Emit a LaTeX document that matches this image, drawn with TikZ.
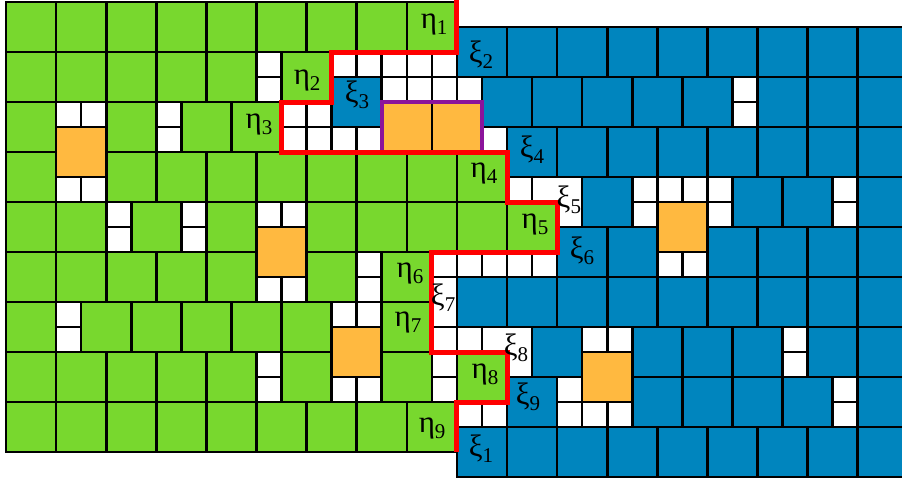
\documentclass[tikz,border=0pt]{standalone}
\usepackage{fontspec}
\setmainfont{Liberation Serif}
\definecolor{gr}{RGB}{120,216,46}
\definecolor{bl}{RGB}{0,133,190}
\definecolor{og}{RGB}{255,185,64}
\definecolor{pu}{RGB}{140,20,155}
\newcommand\lab[2]{{\fontsize{31}{31}\selectfont #1}\raisebox{-6pt}{\fontsize{21}{21}\selectfont #2}}
\tikzset{
  cellb/.style={draw=black, line width=2.6pt},
  lbl/.style={inner sep=0pt, text=black},
  redline/.style={draw=red, line width=5pt, line join=miter},
  purpleline/.style={draw=pu, line width=4.5pt, line join=miter}
}
\newcommand\cG[2]{\filldraw[cellb,fill=gr] (#1,#2) rectangle ++(2,2);}
\newcommand\cB[2]{\filldraw[cellb,fill=bl] (#1,#2) rectangle ++(2,2);}
\newcommand\cO[2]{\filldraw[cellb,fill=og] (#1,#2) rectangle ++(2,2);}
\newcommand\cW[2]{\filldraw[cellb,fill=white] (#1,#2) rectangle ++(1,1);}
\begin{document}
\begin{tikzpicture}[x=25.05pt,y=-25pt]
\useasboundingbox (-0.2395,-0.08) rectangle (35.768,19.2);
\clip (-0.2395,-0.08) rectangle (35.768,19.2);
\fill[white] (-0.2395,-0.08) rectangle (35.768,19.2);
% ---------------- green cells
\foreach \i in {0,2,...,16} {\cG{\i}{0}}
\foreach \i in {0,2,...,8} {\cG{\i}{2}}
\cG{11}{2}
\cG{0}{4} \cG{4}{4} \cG{7}{4} \cG{9}{4}
\cG{0}{6}
\foreach \i in {4,6,...,18} {\cG{\i}{6}}
\cG{0}{8} \cG{2}{8} \cG{5}{8} \cG{8}{8}
\foreach \i in {12,14,...,20} {\cG{\i}{8}}
\foreach \i in {0,2,...,8} {\cG{\i}{10}}
\cG{12}{10} \cG{15}{10}
\cG{0}{12} \cG{3}{12} \cG{5}{12} \cG{7}{12} \cG{9}{12} \cG{11}{12} \cG{15}{12}
\foreach \i in {0,2,...,8} {\cG{\i}{14}}
\cG{11}{14} \cG{15}{14} \cG{18}{14}
\foreach \i in {0,2,...,16} {\cG{\i}{16}}
% ---------------- blue cells
\foreach \i in {18,20,...,34} {\cB{\i}{1}}
\cB{13}{3} \cB{19}{3} \cB{21}{3} \cB{23}{3} \cB{25}{3} \cB{27}{3} \cB{30}{3} \cB{32}{3} \cB{34}{3}
\foreach \i in {20,22,...,34} {\cB{\i}{5}}
\cB{23}{7} \cB{29}{7} \cB{31}{7} \cB{34}{7}
\cB{22}{9} \cB{24}{9} \cB{28}{9} \cB{30}{9} \cB{32}{9} \cB{34}{9}
\foreach \i in {18,20,...,34} {\cB{\i}{11}}
\cB{21}{13} \cB{25}{13} \cB{27}{13} \cB{29}{13} \cB{32}{13} \cB{34}{13}
\cB{20}{15} \cB{25}{15} \cB{27}{15} \cB{29}{15} \cB{31}{15} \cB{34}{15}
\foreach \i in {18,20,...,34} {\cB{\i}{17}}
% ---------------- white small cells
\cW{10}{2} \cW{10}{3}
\foreach \i in {13,...,17} {\cW{\i}{2}}
\foreach \i in {15,...,18} {\cW{\i}{3}}
\cW{2}{4} \cW{3}{4} \cW{6}{4} \cW{6}{5}
\cW{11}{4} \cW{12}{4}
\foreach \i in {11,...,14} {\cW{\i}{5}}
\cW{19}{5}
\cW{2}{7} \cW{3}{7} \cW{20}{7}
\cW{29}{3} \cW{29}{4}
\cW{25}{7} \cW{25}{8} \cW{26}{7} \cW{27}{7} \cW{28}{7} \cW{28}{8} \cW{33}{7} \cW{33}{8}
\cW{4}{8} \cW{4}{9} \cW{7}{8} \cW{7}{9} \cW{10}{8} \cW{11}{8}
\cW{26}{10} \cW{27}{10}
\cW{10}{11} \cW{11}{11} \cW{14}{10} \cW{14}{11}
\foreach \i in {17,...,21} {\cW{\i}{10}}
\cW{2}{12} \cW{2}{13} \cW{13}{12} \cW{14}{12} \cW{17}{13} \cW{18}{13}
\cW{23}{13} \cW{24}{13} \cW{31}{13} \cW{31}{14}
\cW{10}{14} \cW{10}{15} \cW{13}{15} \cW{14}{15} \cW{17}{14} \cW{17}{15}
\cW{22}{15} \cW{22}{16} \cW{23}{16} \cW{24}{16} \cW{33}{15} \cW{33}{16}
\cW{18}{16} \cW{19}{16}
% merged white cells carrying labels
\filldraw[cellb,fill=white] (21,7) -- (23,7) -- (23,9) -- (22,9) -- (22,8) -- (21,8) -- cycle;
\filldraw[cellb,fill=white] (17,11) rectangle (18,13);
\filldraw[cellb,fill=white] (19,13) -- (21,13) -- (21,15) -- (20,15) -- (20,14) -- (19,14) -- cycle;
% ---------------- orange cells
\cO{2}{5} \cO{10}{9} \cO{13}{13} \cO{15}{4} \cO{17}{4} \cO{26}{8} \cO{23}{14}
% ---------------- boundaries
\draw[purpleline] (15,6) -- (15,4) -- (19,4) -- (19,6);
\draw[redline] (18,-0.2) -- (18,2) -- (13,2) -- (13,4) -- (11,4) -- (11,6) -- (20,6) -- (20,8)
  -- (22,8) -- (22,10) -- (17,10) -- (17,14) -- (20,14) -- (20,16) -- (18,16) -- (18,18);
% ---------------- labels
\node[lbl] (e1) at (17.09,0.88) {\lab{η}{1}};
\node[lbl] (x2) at (18.96,2.12) {\lab{ξ}{2}};
\node[lbl] (e2) at (12.02,3.12) {\lab{η}{2}};
\node[lbl] (x3) at (14.01,3.72) {\lab{ξ}{3}};
\node[lbl] (e3) at (10.10,4.88) {\lab{η}{3}};
\node[lbl] (x4) at (21.0,5.92) {\lab{ξ}{4}};
\node[lbl] (e4) at (19.08,6.84) {\lab{η}{4}};
\node[lbl] (x5) at (22.47,7.92) {\lab{ξ}{5}};
\node[lbl] (e5) at (21.12,8.88) {\lab{η}{5}};
\node[lbl] (x6) at (22.99,9.96) {\lab{ξ}{6}};
\node[lbl] (e6) at (16.13,10.84) {\lab{η}{6}};
\node[lbl] (x7) at (17.45,11.84) {\lab{ξ}{7}};
\node[lbl] (e7) at (16.05,12.8) {\lab{η}{7}};
\node[lbl] (x8) at (20.36,13.84) {\lab{ξ}{8}};
\node[lbl] (e8) at (19.12,14.88) {\lab{η}{8}};
\node[lbl] (x9) at (20.84,15.8) {\lab{ξ}{9}};
\node[lbl] (e9) at (17.01,17.04) {\lab{η}{9}};
\node[lbl] (x1) at (18.96,17.88) {\lab{ξ}{1}};
\end{tikzpicture}
\end{document}
